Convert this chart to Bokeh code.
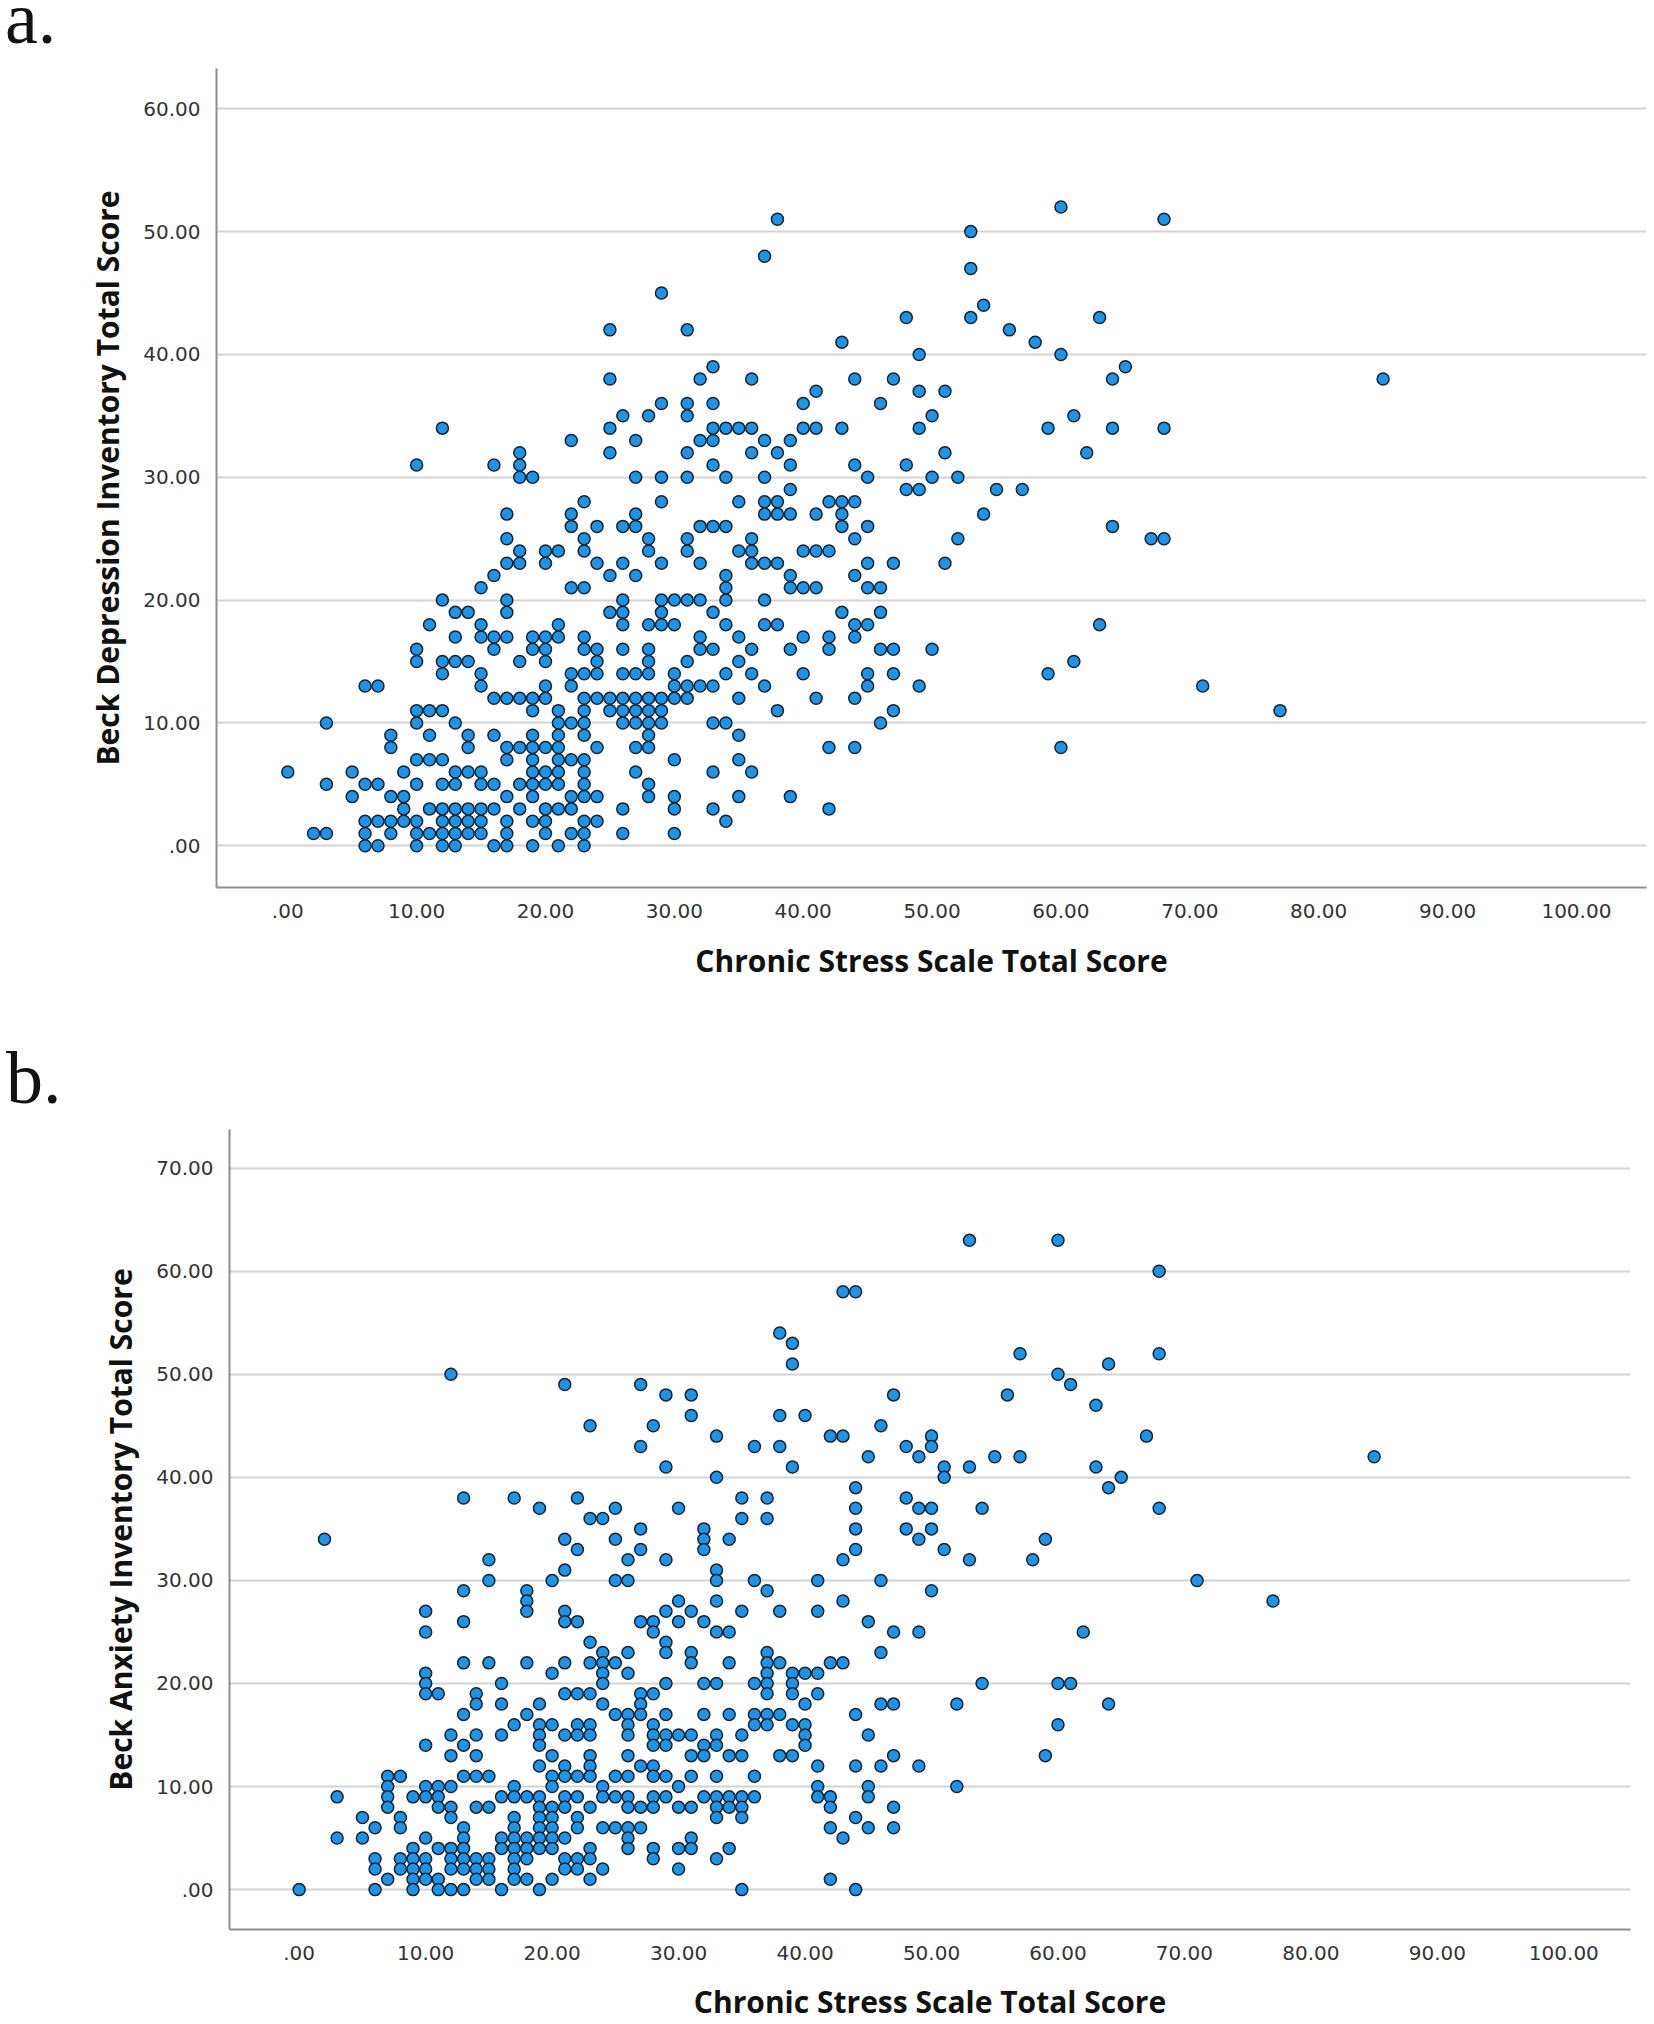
from bokeh.plotting import figure
from bokeh.models import Range1d, FixedTicker, ColumnDataSource, Div
from bokeh.embed import file_html
from bokeh.resources import INLINE

# ---------------- data ----------------
x_ticks = [0, 10, 20, 30, 40, 50, 60, 70, 80, 90, 100]
x_tick_labels = [".00", "10.00", "20.00", "30.00", "40.00", "50.00",
                 "60.00", "70.00", "80.00", "90.00", "100.00"]
ya_ticks = [0, 10, 20, 30, 40, 50, 60]
ya_tick_labels = [".00", "10.00", "20.00", "30.00", "40.00", "50.00", "60.00"]
yb_ticks = [0, 10, 20, 30, 40, 50, 60, 70]
yb_tick_labels = [".00", "10.00", "20.00", "30.00", "40.00", "50.00", "60.00", "70.00"]

panel_labels = ["a.", "b."]
x_title = "Chronic Stress Scale Total Score"
ya_title = "Beck Depression Inventory Total Score"
yb_title = "Beck Anxiety Inventory Total Score"

# panel a: (chronic stress, BDI)
points_a = [
    (6,0),(7,0),(10,0),(12,0),(13,0),(16,0),(17,0),(19,0),(21,0),(23,0),
    (2,1),(3,1),(6,1),(8,1),(10,1),(11,1),(12,1),(13,1),(14,1),(15,1),(17,1),(20,1),(22,1),(23,1),(26,1),(30,1),
    (6,2),(7,2),(8,2),(9,2),(10,2),(12,2),(13,2),(14,2),(15,2),(17,2),(19,2),(20,2),(23,2),(24,2),(34,2),
    (9,3),(11,3),(12,3),(13,3),(14,3),(15,3),(16,3),(18,3),(20,3),(21,3),(22,3),(26,3),(30,3),(33,3),(42,3),
    (5,4),(8,4),(9,4),(17,4),(19,4),(22,4),(23,4),(24,4),(28,4),(30,4),(35,4),(39,4),
    (3,5),(6,5),(7,5),(10,5),(12,5),(13,5),(15,5),(16,5),(18,5),(19,5),(20,5),(21,5),(23,5),(28,5),
    (0,6),(5,6),(9,6),(13,6),(14,6),(15,6),(19,6),(20,6),(21,6),(23,6),(27,6),(33,6),(36,6),
    (10,7),(11,7),(12,7),(17,7),(19,7),(21,7),(22,7),(23,7),(30,7),(35,7),
    (8,8),(14,8),(17,8),(18,8),(19,8),(20,8),(21,8),(24,8),(27,8),(28,8),(42,8),(44,8),(60,8),
    (8,9),(11,9),(14,9),(16,9),(19,9),(21,9),(23,9),(28,9),(35,9),
    (3,10),(10,10),(13,10),(21,10),(22,10),(23,10),(26,10),(27,10),(28,10),(29,10),(33,10),(34,10),(46,10),
    (10,11),(11,11),(12,11),(19,11),(21,11),(23,11),(25,11),(26,11),(27,11),(28,11),(29,11),(38,11),(47,11),(77,11),
    (16,12),(17,12),(18,12),(19,12),(20,12),(23,12),(24,12),(25,12),(26,12),(27,12),(28,12),(29,12),(30,12),(31,12),(35,12),(41,12),(44,12),
    (6,13),(7,13),(15,13),(20,13),(22,13),(30,13),(31,13),(32,13),(33,13),(37,13),(45,13),(49,13),(71,13),
    (12,14),(15,14),(22,14),(23,14),(24,14),(26,14),(27,14),(28,14),(30,14),(34,14),(36,14),(40,14),(45,14),(47,14),(59,14),
    (10,15),(12,15),(13,15),(14,15),(18,15),(20,15),(24,15),(28,15),(31,15),(35,15),(61,15),
    (10,16),(16,16),(19,16),(20,16),(23,16),(24,16),(26,16),(28,16),(32,16),(33,16),(36,16),(39,16),(42,16),(46,16),(47,16),(50,16),
    (13,17),(15,17),(16,17),(17,17),(19,17),(20,17),(21,17),(23,17),(32,17),(35,17),(40,17),(42,17),(44,17),
    (11,18),(15,18),(21,18),(26,18),(28,18),(29,18),(30,18),(34,18),(37,18),(38,18),(44,18),(45,18),(63,18),
    (13,19),(14,19),(17,19),(25,19),(26,19),(29,19),(33,19),(43,19),(46,19),
    (12,20),(17,20),(26,20),(29,20),(30,20),(31,20),(32,20),(34,20),(37,20),
    (15,21),(22,21),(23,21),(34,21),(39,21),(40,21),(41,21),(45,21),(46,21),
    (16,22),(25,22),(27,22),(34,22),(39,22),(44,22),
    (17,23),(18,23),(20,23),(24,23),(26,23),(29,23),(32,23),(36,23),(37,23),(38,23),(45,23),(47,23),(51,23),
    (18,24),(20,24),(21,24),(23,24),(28,24),(31,24),(35,24),(36,24),(40,24),(41,24),(42,24),
    (17,25),(23,25),(28,25),(31,25),(36,25),(44,25),(52,25),(67,25),(68,25),
    (22,26),(24,26),(26,26),(27,26),(32,26),(33,26),(34,26),(43,26),(45,26),(64,26),
    (17,27),(22,27),(27,27),(37,27),(38,27),(39,27),(41,27),(43,27),(54,27),
    (23,28),(29,28),(35,28),(37,28),(38,28),(42,28),(43,28),(44,28),
    (39,29),(48,29),(49,29),(55,29),(57,29),
    (18,30),(19,30),(27,30),(29,30),(31,30),(34,30),(37,30),(45,30),(50,30),(52,30),
    (10,31),(16,31),(18,31),(33,31),(39,31),(44,31),(48,31),
    (18,32),(25,32),(31,32),(36,32),(38,32),(51,32),(62,32),
    (22,33),(27,33),(32,33),(33,33),(37,33),(39,33),
    (12,34),(25,34),(33,34),(34,34),(35,34),(36,34),(40,34),(41,34),(43,34),(49,34),(59,34),(64,34),(68,34),
    (26,35),(28,35),(31,35),(50,35),(61,35),
    (29,36),(31,36),(33,36),(40,36),(46,36),
    (41,37),(49,37),(51,37),
    (25,38),(32,38),(36,38),(44,38),(47,38),(64,38),(85,38),
    (33,39),(65,39),
    (49,40),(60,40),
    (43,41),(58,41),
    (25,42),(31,42),(56,42),
    (48,43),(53,43),(63,43),
    (54,44),
    (29,45),
    (53,47),
    (37,48),
    (53,50),
    (38,51),(68,51),
    (60,52),
]

# panel b: (chronic stress, BAI)
points_b = [
    (0,0),(2,34),(3,9),(3,5),(5,7),(5,5),
    (6,6),(6,3),(6,2),(6,0),
    (7,11),(7,10),(7,9),(7,8),(7,1),
    (8,11),(8,7),(8,6),(8,3),(8,2),
    (9,9),(9,4),(9,3),(9,2),(9,1),(9,0),
    (10,27),(10,25),(10,21),(10,20),(10,19),(10,14),(10,10),(10,9),(10,5),(10,3),(10,2),(10,1),
    (11,19),(11,10),(11,9),(11,8),(11,4),(11,1),(11,0),
    (12,50),(12,15),(12,13),(12,10),(12,8),(12,7),(12,4),(12,3),(12,2),(12,0),
    (13,38),(13,29),(13,26),(13,22),(13,17),(13,14),(13,11),(13,6),(13,5),(13,4),(13,3),(13,2),(13,0),
    (14,19),(14,18),(14,15),(14,13),(14,11),(14,8),(14,3),(14,2),(14,1),
    (15,32),(15,30),(15,22),(15,11),(15,8),(15,3),(15,2),(15,1),
    (16,20),(16,18),(16,15),(16,9),(16,5),(16,4),(16,0),
    (17,38),(17,16),(17,10),(17,9),(17,7),(17,6),(17,5),(17,4),(17,3),(17,2),(17,1),
    (18,29),(18,28),(18,27),(18,22),(18,17),(18,9),(18,5),(18,4),(18,3),(18,1),
    (19,37),(19,18),(19,16),(19,15),(19,14),(19,12),(19,9),(19,8),(19,7),(19,6),(19,5),(19,4),(19,0),
    (20,30),(20,21),(20,16),(20,13),(20,11),(20,10),(20,8),(20,7),(20,6),(20,5),(20,4),(20,1),
    (21,49),(21,34),(21,31),(21,27),(21,26),(21,22),(21,19),(21,15),(21,12),(21,11),(21,9),(21,8),(21,5),(21,3),(21,2),
    (22,38),(22,33),(22,26),(22,19),(22,16),(22,15),(22,11),(22,9),(22,7),(22,6),(22,3),(22,2),
    (23,45),(23,36),(23,24),(23,22),(23,19),(23,16),(23,15),(23,13),(23,12),(23,11),(23,8),(23,4),(23,3),(23,1),
    (24,36),(24,23),(24,22),(24,21),(24,20),(24,18),(24,10),(24,9),(24,6),(24,2),
    (25,37),(25,34),(25,30),(25,22),(25,17),(25,11),(25,9),(25,6),
    (26,32),(26,30),(26,23),(26,21),(26,17),(26,16),(26,15),(26,13),(26,11),(26,9),(26,8),(26,6),(26,5),(26,4),
    (27,49),(27,43),(27,35),(27,33),(27,26),(27,19),(27,18),(27,17),(27,12),(27,8),(27,6),
    (28,45),(28,26),(28,25),(28,19),(28,16),(28,15),(28,14),(28,12),(28,11),(28,9),(28,8),(28,4),(28,3),
    (29,48),(29,41),(29,32),(29,27),(29,24),(29,23),(29,20),(29,17),(29,15),(29,14),(29,11),(29,9),
    (30,37),(30,28),(30,26),(30,15),(30,10),(30,8),(30,4),(30,2),
    (31,48),(31,46),(31,27),(31,23),(31,22),(31,15),(31,13),(31,11),(31,8),(31,5),(31,4),
    (32,35),(32,34),(32,33),(32,26),(32,20),(32,17),(32,14),(32,13),(32,9),
    (33,44),(33,40),(33,31),(33,30),(33,28),(33,25),(33,20),(33,15),(33,14),(33,11),(33,9),(33,8),(33,7),(33,3),
    (34,34),(34,25),(34,22),(34,17),(34,13),(34,9),(34,8),(34,4),
    (35,38),(35,36),(35,27),(35,15),(35,13),(35,9),(35,8),(35,7),(35,0),
    (36,43),(36,30),(36,20),(36,17),(36,16),(36,11),(36,9),
    (37,38),(37,36),(37,29),(37,23),(37,22),(37,21),(37,20),(37,19),(37,17),(37,16),
    (38,54),(38,46),(38,43),(38,27),(38,22),(38,17),(38,13),
    (39,53),(39,51),(39,41),(39,21),(39,20),(39,19),(39,16),(39,13),
    (40,46),(40,21),(40,18),(40,16),(40,15),(40,14),
    (41,30),(41,27),(41,21),(41,19),(41,12),(41,10),(41,9),
    (42,44),(42,22),(42,9),(42,8),(42,6),(42,1),
    (43,58),(43,44),(43,32),(43,28),(43,22),(43,5),
    (44,58),(44,39),(44,37),(44,35),(44,33),(44,17),(44,12),(44,7),(44,0),
    (45,42),(45,26),(45,15),(45,10),(45,9),(45,6),
    (46,45),(46,30),(46,23),(46,18),(46,12),
    (47,48),(47,25),(47,18),(47,13),(47,8),(47,6),
    (48,43),(48,38),(48,35),
    (49,42),(49,37),(49,34),(49,25),(49,12),
    (50,44),(50,43),(50,37),(50,35),(50,29),
    (51,41),(51,40),(51,33),
    (52,18),(52,10),
    (53,63),(53,41),(53,32),
    (54,37),(54,20),
    (55,42),(56,48),(57,52),(57,42),(58,32),(59,34),(59,13),
    (60,63),(60,50),(60,20),(60,16),
    (61,49),(61,20),(62,25),(63,47),(63,41),
    (64,51),(64,39),(64,18),(65,40),(67,44),
    (68,60),(68,52),(68,37),
    (71,30),(77,28),(85,42),
]

stress_a = [p[0] for p in points_a]
bdi_a = [p[1] for p in points_a]
stress_b = [p[0] for p in points_b]
bai_b = [p[1] for p in points_b]

# ---------------- styling ----------------
W = 1654
FILL = "#1f93e6"
EDGE = "#17232e"
GRID = "#d3d3d3"
AXIS = "#8e8e8e"
TICK_FONT = "DejaVu Sans"
TITLE_FONT = "Open Sans"


def style(p, y_ticks, y_labels, y_title, xlab_standoff, ylab_standoff):
    p.outline_line_color = None
    p.xgrid.visible = False
    p.ygrid.grid_line_color = GRID
    p.ygrid.grid_line_width = 2
    p.xaxis.ticker = FixedTicker(ticks=x_ticks)
    p.yaxis.ticker = FixedTicker(ticks=y_ticks)
    p.xaxis.major_label_overrides = {t: l for t, l in zip(x_ticks, x_tick_labels)}
    p.yaxis.major_label_overrides = {t: l for t, l in zip(y_ticks, y_labels)}
    for ax in (p.xaxis, p.yaxis):
        ax.axis_line_color = AXIS
        ax.axis_line_width = 2
        ax.major_tick_line_color = None
        ax.minor_tick_line_color = None
        ax.major_label_text_font = TICK_FONT
        ax.major_label_text_font_size = "20px"
        ax.major_label_text_color = "#333333"
        ax.major_label_standoff = 10
        ax.axis_label_text_font = TITLE_FONT
        ax.axis_label_text_font_style = "bold"
        ax.axis_label_text_font_size = "30px"
        ax.axis_label_text_color = "#111111"
    p.xaxis.axis_label = x_title
    p.yaxis.axis_label = y_title
    p.xaxis.axis_label_standoff = xlab_standoff
    p.yaxis.axis_label_standoff = ylab_standoff


def panel_div(text, height, line_height, pad_left):
    return Div(text=text, width=W, height=height, margin=(0, 0, 0, 0),
               styles={"font-family": "'Liberation Serif', serif",
                       "font-size": "74px",
                       "line-height": f"{line_height}px",
                       "color": "#111111",
                       "padding-left": f"{pad_left}px",
                       "overflow": "visible"})


# ---------------- panel a ----------------
div_a = panel_div(panel_labels[0], 68, 36, 5)
pa = figure(width=W, height=980,
            x_range=Range1d(-5.53, 105.44), y_range=Range1d(-3.4, 63.28),
            output_backend="svg", toolbar_location=None,
            min_border_left=216, min_border_right=8,
            min_border_top=0, min_border_bottom=161)
style(pa, ya_ticks, ya_tick_labels, ya_title, 19, 12)
src_a = ColumnDataSource(dict(x=stress_a, y=bdi_a))
pa.scatter("x", "y", source=src_a, size=12, fill_color=FILL,
           line_color=EDGE, line_width=1.5)

# ---------------- panel b ----------------
div_b = panel_div(panel_labels[1], 72, 60, 6)
pb = figure(width=W, height=904,
            x_range=Range1d(-5.51, 105.27), y_range=Range1d(-3.87, 73.75),
            output_backend="svg", toolbar_location=None,
            min_border_left=229, min_border_right=24,
            min_border_top=9, min_border_bottom=93)
style(pb, yb_ticks, yb_tick_labels, yb_title, 18, 12)
src_b = ColumnDataSource(dict(x=stress_b, y=bai_b))
pb.scatter("x", "y", source=src_b, size=12, fill_color=FILL,
           line_color=EDGE, line_width=1.5)

# separate roots, stacked in page order (keeps each panel's own frame geometry)
open("out.html", "w").write(file_html([div_a, pa, div_b, pb], INLINE))
